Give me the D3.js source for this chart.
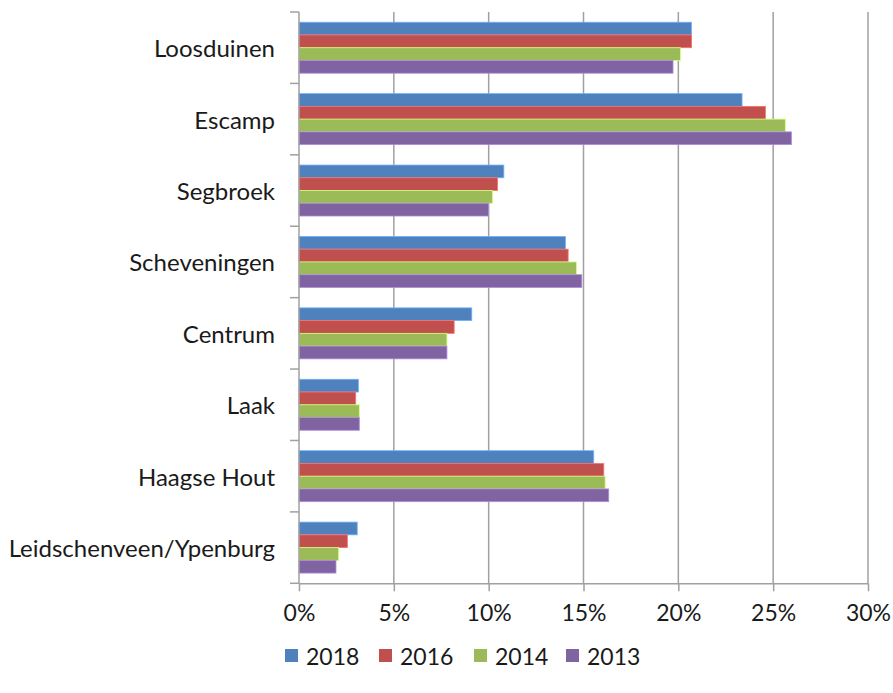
<!DOCTYPE html>
<html>
<head>
<meta charset="utf-8">
<script src="https://cdn.jsdelivr.net/npm/d3@7"></script>
<style>
  html, body { margin: 0; padding: 0; background: #ffffff; }
  svg { display: block; }
  text { font-family: Lato, "Open Sans", sans-serif; fill: #1a1a1a; }
</style>
</head>
<body>
<svg id="chart" width="893" height="693"></svg>
<script>
// Share per district (fraction), by survey year
const districts = ["Loosduinen", "Escamp", "Segbroek", "Scheveningen", "Centrum", "Laak", "Haagse Hout", "Leidschenveen/Ypenburg"];
const years = ["2018", "2016", "2014", "2013"];
const yearColors = ["#4F81BD", "#C0504D", "#9BBB59", "#8064A2"];

const values2018 = [0.2069, 0.2336, 0.1080, 0.1405, 0.0911, 0.0313, 0.1554, 0.0307];
const values2016 = [0.2070, 0.2459, 0.1047, 0.1419, 0.0818, 0.0299, 0.1607, 0.0255];
const values2014 = [0.2011, 0.2564, 0.1020, 0.1463, 0.0780, 0.0318, 0.1614, 0.0209];
const values2013 = [0.1972, 0.2596, 0.0999, 0.1491, 0.0780, 0.0318, 0.1633, 0.0195];

const xTicks = [0, 0.05, 0.10, 0.15, 0.20, 0.25, 0.30];

const seriesValues = [values2018, values2016, values2014, values2013];
const rows = districts.map((d, i) => ({
  district: d,
  bars: years.map((y, k) => ({ year: y, color: yearColors[k], value: seriesValues[k][i] }))
}));

const svg = d3.select("#chart");
const plotLeft = 299, plotRight = 868, plotTop = 12, plotBottom = 583.3;

const x = d3.scaleLinear().domain([0, 0.30]).range([plotLeft, plotRight]);
const y = d3.scaleBand().domain(districts).range([plotTop, plotBottom]).padding(0);
const inner = d3.scaleBand().domain(years)
  .range([y.bandwidth() * 0.143, y.bandwidth() * 0.857]).padding(0);

const gridColor = "#a0a0a0";

// vertical gridlines
svg.append("g")
  .selectAll("line")
  .data(xTicks.slice(1))
  .join("line")
  .attr("x1", d => x(d)).attr("x2", d => x(d))
  .attr("y1", plotTop).attr("y2", plotBottom)
  .attr("stroke", gridColor).attr("stroke-width", 1.5);

// bars
const groups = svg.append("g")
  .selectAll("g")
  .data(rows)
  .join("g")
  .attr("transform", d => `translate(0,${y(d.district)})`);

groups.selectAll("rect")
  .data(d => d.bars)
  .join("rect")
  .attr("x", x(0))
  .attr("y", d => inner(d.year))
  .attr("width", d => x(d.value) - x(0))
  .attr("height", inner.bandwidth())
  .attr("fill", d => d.color)
  .attr("stroke", d => d3.color(d.color).brighter(0.9))
  .attr("stroke-width", 0.8);

// bottom axis
const xAxis = d3.axisBottom(x)
  .tickValues(xTicks)
  .tickFormat(d3.format(".0%"))
  .tickSize(8)
  .tickSizeOuter(0);
const gx = svg.append("g")
  .attr("transform", `translate(0,${plotBottom})`)
  .call(xAxis);
gx.select(".domain").attr("stroke", gridColor).attr("stroke-width", 1.5);
gx.selectAll(".tick line").attr("stroke", gridColor).attr("stroke-width", 1.5);
gx.selectAll(".tick text")
  .attr("y", 21)
  .attr("font-size", 23)
  .attr("font-family", "Lato, 'Open Sans', sans-serif")
  .attr("fill", "#1a1a1a");

// left axis: category labels centered in bands, ticks at band boundaries
svg.append("line")
  .attr("x1", plotLeft).attr("x2", plotLeft)
  .attr("y1", plotTop).attr("y2", plotBottom)
  .attr("stroke", gridColor).attr("stroke-width", 1.5);

const boundaries = districts.map(d => y(d)).concat([plotBottom]);
svg.append("g")
  .selectAll("line")
  .data(boundaries)
  .join("line")
  .attr("x1", plotLeft - 9).attr("x2", plotLeft)
  .attr("y1", d => d).attr("y2", d => d)
  .attr("stroke", gridColor).attr("stroke-width", 1.5);

svg.append("g")
  .selectAll("text")
  .data(districts)
  .join("text")
  .attr("x", 275)
  .attr("y", d => y(d) + y.bandwidth() / 2)
  .attr("text-anchor", "end")
  .attr("dominant-baseline", "central")
  .attr("font-size", 24)
  .text(d => d);

// legend
const legendX = [285, 379, 474, 566];
const legend = svg.append("g")
  .selectAll("g")
  .data(years)
  .join("g")
  .attr("transform", (d, i) => `translate(${legendX[i]},655)`);
legend.append("rect")
  .attr("x", 0).attr("y", -6)
  .attr("width", 13).attr("height", 13)
  .attr("fill", (d, i) => yearColors[i]);
legend.append("text")
  .attr("x", 21).attr("y", 1)
  .attr("dominant-baseline", "central")
  .attr("font-size", 23)
  .text(d => d);
</script>
</body>
</html>
